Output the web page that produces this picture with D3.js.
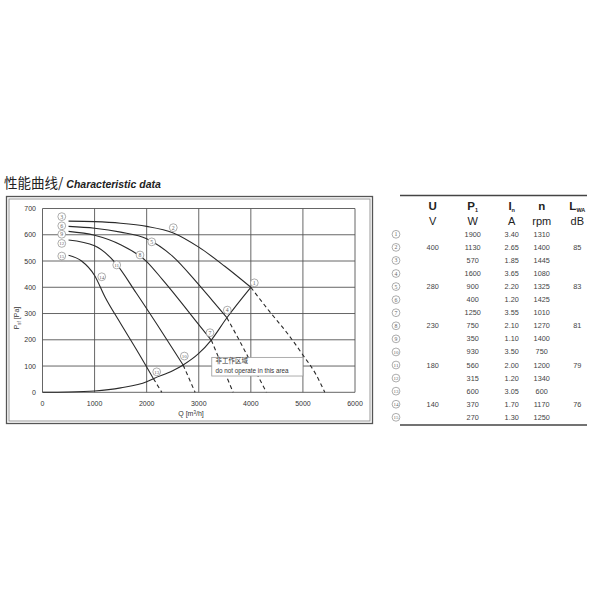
<!DOCTYPE html>
<html><head><meta charset="utf-8">
<script src="https://cdn.jsdelivr.net/npm/d3@7"></script>
<style>body{margin:0;background:#fff}</style>
</head><body><svg id="c" width="600" height="600"></svg>
<script>
// ---------- data ----------
const xTicks = [0, 1000, 2000, 3000, 4000, 5000, 6000];
const yTicks = [0, 100, 200, 300, 400, 500, 600, 700];

// fan curves (Q m3/h, Psf Pa) – solid part then dashed (non-operating) part
const curve400 = [[500,652],[1000,650],[1500,644],[2000,632],[2500,608],[3000,553],[3500,480],[4000,400]];
const curve400Dash = [[4000,400],[4350,310],[4700,225],[5000,142],[5250,68],[5420,0]];
const curve280 = [[500,632],[1000,625],[1500,610],[2000,585],[2500,518],[3000,410],[3250,352],[3540,284]];
const curve280Dash = [[3540,284],[3800,190],[4050,95],[4300,0]];
const curve230 = [[500,613],[1000,598],[1500,562],[2000,498],[2300,430],[2600,358],[3000,258],[3240,199]];
const curve230Dash = [[3240,199],[3450,100],[3660,0]];
const curve180 = [[500,580],[1000,558],[1400,493],[1800,378],[2200,258],[2700,104]];
const curve180Dash = [[2700,104],[2930,0]];
const curve140 = [[500,522],[750,500],[1000,445],[1200,363],[1500,262],[1800,164],[2130,52]];
const curve140Dash = [[2130,52],[2290,0]];
// system (operating limit) curve
const systemCurve = [[0,0],[500,1],[1000,5],[1500,17],[2000,40],[2130,52],[2500,82],[2700,104],[3000,148],[3240,199],[3540,284],[4000,400]];

// curve labels [number, Q, P]
const curveLabels = [
  [3,370,669],[6,370,634],[9,370,602],[12,370,567],[15,370,519],
  [2,2511,627],[5,2097,573],[8,1872,523],[11,1425,485],[14,1137,440],
  [1,4067,417],[4,3548,313],[7,3216,227],[10,2723,138],[13,2193,78]
];

// table
const tblNums = [1,2,3,4,5,6,7,8,9,10,11,12,13,14,15];
const tblU    = ["","400","","","280","","","230","","","180","","","140",""];
const tblP1   = ["1900","1130","570","1600","900","400","1250","750","350","930","560","315","600","370","270"];
const tblIn   = ["3.40","2.65","1.85","3.65","2.20","1.20","3.55","2.10","1.10","3.50","2.00","1.20","3.05","1.70","1.30"];
const tblN    = ["1310","1400","1445","1080","1325","1425","1010","1270","1400","750","1200","1340","600","1170","1250"];
const tblL    = ["","85","","","83","","","81","","","79","","","76",""];

// ---------- drawing ----------
const svg = d3.select("#c");
const x = d3.scaleLinear().domain([0,6000]).range([42.5,355]);
const y = d3.scaleLinear().domain([0,700]).range([392.3,208.5]);
const sans = "Liberation Sans, Arial, sans-serif";
const serif = "Liberation Serif, Times New Roman, serif";

// circled number marker
function circled(sel, cx, cy, n){
  const gg = sel.append("g").attr("transform",`translate(${cx},${cy})`);
  gg.append("circle").attr("r",3.9).attr("fill","#fff").attr("stroke","#777").attr("stroke-width",0.6);
  gg.append("text").attr("y",2).attr("text-anchor","middle")
    .attr("font-family",serif).attr("font-size",n>9?5:5.8).attr("fill","#666")
    .attr("textLength",n>9?5:null).attr("lengthAdjust","spacingAndGlyphs").text(n);
}

// title
const t = svg.append("text").attr("x",4).attr("y",187.5).attr("fill","#222");
t.append("tspan").attr("font-family","Noto Sans CJK SC").attr("font-size",13.5).text("性能曲线/ ");
t.append("tspan").attr("font-family",sans).attr("font-size",10.5).attr("font-weight","bold").attr("font-style","italic").text("Characteristic data");

// outer frame (double)
svg.append("rect").attr("x",6.5).attr("y",196.5).attr("width",366).attr("height",227).attr("fill","none").attr("stroke","#555").attr("stroke-width",1.3);
svg.append("rect").attr("x",9).attr("y",199).attr("width",361).attr("height",222).attr("fill","none").attr("stroke","#999").attr("stroke-width",1);

// grid
const g = svg.append("g");
g.selectAll(".vg").data(xTicks).join("line")
  .attr("x1",d=>x(d)).attr("x2",d=>x(d)).attr("y1",y(700)).attr("y2",y(0))
  .attr("stroke","#555").attr("stroke-width",0.9);
g.selectAll(".hg").data(yTicks).join("line")
  .attr("y1",d=>y(d)).attr("y2",d=>y(d)).attr("x1",x(0)).attr("x2",x(6000))
  .attr("stroke","#555").attr("stroke-width",0.9);

// tick labels
g.selectAll(".xl").data(xTicks).join("text")
  .attr("x",d=>x(d)).attr("y",406).attr("text-anchor","middle")
  .attr("font-family",sans).attr("font-size",7).attr("fill","#333").text(d=>d);
g.selectAll(".yl").data(yTicks).join("text")
  .attr("x",36).attr("y",d=>y(d)+2.5).attr("text-anchor","end")
  .attr("font-family",sans).attr("font-size",7).attr("fill","#333").text(d=>d);

// axis titles
const xt = svg.append("text").attr("x",191).attr("y",416).attr("text-anchor","middle")
  .attr("font-family",sans).attr("font-size",7).attr("fill","#333");
xt.append("tspan").text("Q [m");
xt.append("tspan").attr("font-size",4.5).attr("dy",-2.5).text("3");
xt.append("tspan").attr("dy",2.5).text("/h]");
const yt = svg.append("text").attr("transform","translate(19,318) rotate(-90)").attr("text-anchor","middle")
  .attr("font-family",sans).attr("font-size",7).attr("fill","#333");
yt.append("tspan").text("P");
yt.append("tspan").attr("font-size",4.5).attr("dy",1.5).text("sf");
yt.append("tspan").attr("dy",-1.5).text(" [Pa]");

// curves
const line = d3.line().x(d=>x(d[0])).y(d=>y(d[1])).curve(d3.curveMonotoneX);
[curve400,curve280,curve230,curve180,curve140].forEach(c=>{
  svg.append("path").attr("d",line(c)).attr("fill","none").attr("stroke","#2a2a2a").attr("stroke-width",1.1);
});
[curve400Dash,curve280Dash,curve230Dash,curve180Dash,curve140Dash].forEach(c=>{
  svg.append("path").attr("d",line(c)).attr("fill","none").attr("stroke","#2a2a2a").attr("stroke-width",1.1).attr("stroke-dasharray","4,3");
});
svg.append("path").attr("d",line(systemCurve)).attr("fill","none").attr("stroke","#2a2a2a").attr("stroke-width",1.1);

// note box (on top of the dashed lines)
svg.append("rect").attr("x",x(3250)).attr("y",y(133)).attr("width",x(5000)-x(3250)).attr("height",y(62)-y(133))
  .attr("fill","#fff").attr("stroke","#999").attr("stroke-width",0.8);
svg.append("text").attr("x",x(3320)).attr("y",y(111)).attr("font-family","Noto Sans CJK SC").attr("font-size",6.5).attr("fill","#333").text("非工作区域");
svg.append("text").attr("x",x(3320)).attr("y",y(72)).attr("font-family",sans).attr("font-size",6.3).attr("fill","#333").text("do not operate in this area");

// curve labels
const lab = svg.append("g");
curveLabels.forEach(d=>circled(lab, x(d[1]), y(d[2]), d[0]));

// table
svg.append("line").attr("x1",400).attr("x2",587).attr("y1",195.5).attr("y2",195.5).attr("stroke","#444").attr("stroke-width",1.3);
svg.append("line").attr("x1",400).attr("x2",587).attr("y1",425).attr("y2",425).attr("stroke","#444").attr("stroke-width",1.3);
const colX = [432.7,472.7,511.7,541.7,577.3];
const hdr = svg.append("g").attr("font-family",sans).attr("fill","#222").attr("text-anchor","middle");
function head(xc, main, sub){
  const tt = hdr.append("text").attr("x",xc).attr("y",209.5).attr("font-size",11.5).attr("font-weight","bold");
  tt.append("tspan").text(main);
  if(sub){ tt.append("tspan").attr("font-size",5.5).attr("dy",2).text(sub); }
}
head(colX[0],"U"); head(colX[1],"P","1"); head(colX[2],"I","n"); head(colX[3],"n"); head(colX[4],"L","WA");
["V","W","A","rpm","dB"].forEach((u,i)=>{
  hdr.append("text").attr("x",colX[i]).attr("y",225).attr("font-size",11).text(u);
});
const rowY = d3.scaleLinear().domain([0,14]).range([234.3,417.3]);
const cols = [tblU,tblP1,tblIn,tblN,tblL];
const tb = svg.append("g").attr("font-family",sans).attr("font-size",7.3).attr("fill","#444").attr("text-anchor","middle");
tblNums.forEach((n,i)=>{
  circled(tb, 396, rowY(i), n);
  cols.forEach((c,j)=>{
    if(c[i]) tb.append("text").attr("x",colX[j]).attr("y",rowY(i)).attr("dominant-baseline","central").text(c[i]);
  });
});
</script>
</body></html>
